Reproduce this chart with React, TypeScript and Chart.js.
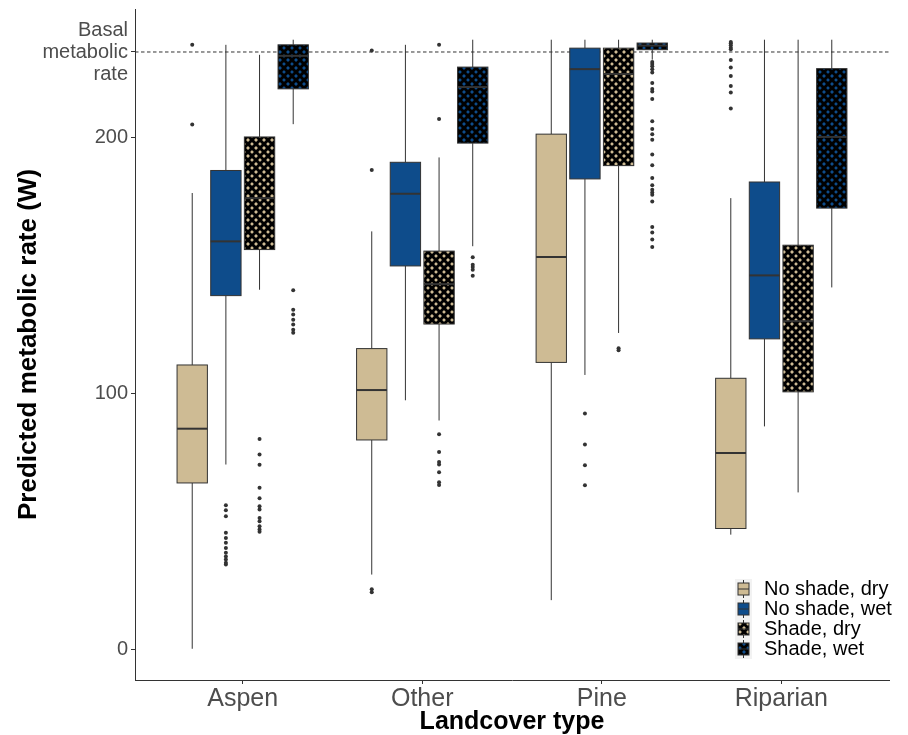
import React, { useEffect, useRef } from 'react';
import { Chart, registerables } from 'chart.js';

Chart.register(...registerables);

// ---------- data ----------
const categories = ['Aspen', 'Other', 'Pine', 'Riparian'];
const seriesNames = ['No shade, dry', 'No shade, wet', 'Shade, dry', 'Shade, wet'];
const yTickValues = [0, 100, 200];
const basalRate = 233.5;
const basalLabel = ['Basal', 'metabolic', 'rate'];

// per category: [lower whisker, Q1, median, Q3, upper whisker]
const noShadeDry = [
  [0.3, 65.1, 86.3, 111.2, 178.4],
  [29.3, 81.9, 101.4, 117.6, 163.4],
  [19.3, 112.2, 153.4, 201.4, 238.3],
  [44.9, 47.3, 76.8, 106.0, 176.4],
];
const noShadeWet = [
  [72.3, 138.3, 159.5, 187.2, 236.3],
  [97.4, 149.9, 178.1, 190.4, 236.3],
  [107.3, 183.9, 226.8, 235.0, 238.3],
  [87.2, 121.4, 146.2, 182.7, 238.3],
];
const shadeDry = [
  [140.6, 156.3, 176.4, 200.3, 232.4],
  [89.5, 127.2, 142.8, 155.7, 192.3],
  [123.7, 189.1, 224.9, 235.0, 238.3],
  [61.4, 100.7, 128.3, 158.0, 238.3],
];
const shadeWet = [
  [205.3, 219.1, 232.0, 236.3, 238.3],
  [157.6, 197.9, 219.8, 227.6, 238.3],
  [230.5, 234.4, 236.0, 237.0, 238.3],
  [141.5, 172.5, 200.3, 227.0, 238.3],
];

// outliers per category
const noShadeDryOut = [
  [236.3, 205.2],
  [234.1, 187.4, 23.6, 22.4],
  [],
  [237.4, 236.9, 236.1, 235.2, 234.6, 230.4, 227.4, 224.1, 220.2, 217.7, 211.4],
];
const noShadeWetOut = [
  [56.4, 54.4, 52.1, 45.6, 43.6, 41.7, 39.7, 37.8, 36.4, 35.2, 33.9, 33.2],
  [],
  [92.2, 80.1, 72.0, 64.2],
  [],
];
const shadeDryOut = [
  [82.3, 76.2, 72.2, 63.2, 59.1, 56.0, 54.7, 51.4, 50.1, 48.2, 46.9, 46.0],
  [236.3, 207.3, 84.1, 77.2, 73.3, 72.3, 69.3, 65.4, 64.3],
  [117.7, 117.0],
  [],
];
const shadeWetOut = [
  [140.4, 132.8, 130.9, 128.9, 127.0, 125.0, 123.8],
  [153.3, 150.4, 149.5, 148.4, 146.1],
  [229.6, 228.8, 227.9, 226.8, 225.5, 221.4, 219.0, 218.1, 215.1, 206.4, 203.4, 201.4, 199.2,
    193.4, 189.2, 184.3, 181.4, 179.7, 178.6, 177.7, 175.1, 165.1, 163.0, 160.2, 157.3],
  [],
];

const allStats = [noShadeDry, noShadeWet, shadeDry, shadeWet];
const allOutliers = [noShadeDryOut, noShadeWetOut, shadeDryOut, shadeWetOut];

// ---------- style / layout ----------
const FONT = '"Liberation Sans", Arial, sans-serif';
const TAN = '#CEBB94';
const BLUE = '#0E4C8B';
const LINE = '#333333';
const DODGE = 0.75;
const BOX_W = 0.169;
const seriesOffset = (j: number) => (j - (seriesNames.length - 1) / 2) * (DODGE / seriesNames.length);

function makeHatch(base: string): CanvasPattern {
  const s = 8;
  const c = document.createElement('canvas');
  c.width = s;
  c.height = s;
  const g = c.getContext('2d')!;
  g.fillStyle = base;
  g.fillRect(0, 0, s, s);
  g.strokeStyle = '#000';
  g.lineWidth = 3;
  for (const d of [-s, 0, s]) {
    g.beginPath();
    g.moveTo(d - 2, -2);
    g.lineTo(d + s + 2, s + 2);
    g.stroke();
    g.beginPath();
    g.moveTo(d - 2, s + 2);
    g.lineTo(d + s + 2, -2);
    g.stroke();
  }
  return g.createPattern(c, 'repeat')!;
}

export default function App() {
  const ref = useRef<HTMLCanvasElement>(null);

  useEffect(() => {
    document.body.style.margin = '0';
    const canvas = ref.current!;
    const fills: (string | CanvasPattern)[] = [TAN, BLUE, makeHatch(TAN), makeHatch(BLUE)];

    const boxPlugin = {
      id: 'boxes',
      afterDatasetDraw(chart: any, args: any) {
        if (args.index !== 0) return;
        const { ctx, scales } = chart;
        const x = scales.x;
        const y = scales.y;
        ctx.save();
        allStats.forEach((series, j) => {
          series.forEach((st, i) => {
            const c = i + 1 + seriesOffset(j);
            const xc = x.getPixelForValue(c);
            const xl = x.getPixelForValue(c - BOX_W / 2);
            const xr = x.getPixelForValue(c + BOX_W / 2);
            const [lo, q1, med, q3, hi] = st.map((v) => y.getPixelForValue(v));
            ctx.strokeStyle = LINE;
            ctx.lineWidth = 1;
            ctx.beginPath();
            ctx.moveTo(xc, hi);
            ctx.lineTo(xc, q3);
            ctx.moveTo(xc, q1);
            ctx.lineTo(xc, lo);
            ctx.stroke();
            ctx.fillStyle = fills[j];
            ctx.fillRect(xl, q3, xr - xl, q1 - q3);
            ctx.strokeRect(xl, q3, xr - xl, q1 - q3);
            ctx.lineWidth = 2;
            ctx.beginPath();
            ctx.moveTo(xl, med);
            ctx.lineTo(xr, med);
            ctx.stroke();
          });
        });
        ctx.restore();
      },
    };

    const legendPlugin = {
      id: 'boxLegend',
      afterDraw(chart: any) {
        const { ctx } = chart;
        const left = 735;
        const top = 579;
        const keyW = 17;
        const rowH = 20;
        ctx.save();
        ctx.fillStyle = '#F2F2F2';
        ctx.fillRect(left, top, keyW, rowH * seriesNames.length);
        seriesNames.forEach((name, j) => {
          const rt = top + j * rowH;
          const cx = left + keyW / 2;
          ctx.strokeStyle = LINE;
          ctx.lineWidth = 1;
          ctx.beginPath();
          ctx.moveTo(cx, rt + 1);
          ctx.lineTo(cx, rt + rowH - 1);
          ctx.stroke();
          ctx.fillStyle = fills[j];
          ctx.fillRect(left + 3, rt + 4, keyW - 6, rowH - 8);
          ctx.strokeRect(left + 3, rt + 4, keyW - 6, rowH - 8);
          ctx.beginPath();
          ctx.moveTo(left + 3, rt + rowH / 2);
          ctx.lineTo(left + keyW - 3, rt + rowH / 2);
          ctx.stroke();
          ctx.fillStyle = '#000';
          ctx.font = `20px ${FONT}`;
          ctx.textBaseline = 'middle';
          ctx.textAlign = 'left';
          ctx.fillText(name, 764, rt + rowH / 2);
        });
        ctx.restore();
      },
    };

    const outlierSets = allOutliers.map((outs, j) => ({
      type: 'scatter' as const,
      label: seriesNames[j],
      data: outs.flatMap((vals, i) => vals.map((v) => ({ x: i + 1 + seriesOffset(j), y: v }))),
      pointRadius: 2,
      pointHoverRadius: 2,
      pointBackgroundColor: LINE,
      pointBorderWidth: 0,
      order: 1,
    }));

    const chart = new Chart(canvas, {
      type: 'scatter',
      data: {
        datasets: [
          {
            type: 'line',
            label: 'Basal metabolic rate',
            data: [
              { x: 0.4, y: basalRate },
              { x: 4.6, y: basalRate },
            ],
            borderColor: LINE,
            borderWidth: 1,
            borderDash: [3.5, 2.5],
            pointRadius: 0,
            order: 10,
          } as any,
          ...outlierSets,
        ],
      },
      options: {
        animation: false,
        responsive: false,
        events: [],
        layout: { padding: { left: 0, top: 9, right: 19, bottom: 0 } },
        plugins: { legend: { display: false }, tooltip: { enabled: false } },
        scales: {
          x: {
            type: 'linear',
            min: 0.4,
            max: 4.6,
            afterBuildTicks: (s: any) => {
              s.ticks = categories.map((_, i) => ({ value: i + 1 }));
            },
            afterFit: (s: any) => {
              s.height = 55;
              s.paddingLeft = 0;
              s.paddingRight = 0;
            },
            ticks: {
              autoSkip: false,
              maxRotation: 0,
              padding: 0,
              color: '#4D4D4D',
              font: { family: FONT, size: 25, lineHeight: 1.2 },
              callback: (v: any) => categories[Math.round(Number(v)) - 1],
            },
            grid: { drawOnChartArea: false, drawTicks: true, tickLength: 4, color: LINE },
            border: { display: true, color: LINE, width: 1 },
            title: {
              display: true,
              text: 'Landcover type',
              color: '#000',
              font: { family: FONT, size: 25, weight: 'bold', lineHeight: 1.2 },
              padding: { top: 0, bottom: -2 },
            },
          },
          y: {
            type: 'linear',
            min: -11.9,
            max: 250.3,
            afterBuildTicks: (s: any) => {
              s.ticks = [...yTickValues, basalRate].map((value) => ({ value }));
            },
            afterFit: (s: any) => {
              s.width = 135;
              s.paddingTop = 0;
              s.paddingBottom = 0;
            },
            ticks: {
              autoSkip: false,
              padding: 3,
              color: '#4D4D4D',
              font: { family: FONT, size: 20, lineHeight: 1.1 },
              callback: (v: any) => (Number(v) === basalRate ? basalLabel : String(v)),
            },
            grid: { drawOnChartArea: false, drawTicks: true, tickLength: 4, color: LINE },
            border: { display: true, color: LINE, width: 1 },
            title: {
              display: true,
              text: 'Predicted metabolic rate (W)',
              color: '#000',
              font: { family: FONT, size: 26, weight: 'bold', lineHeight: 1.2 },
              padding: { top: 13, bottom: 0 },
            },
          },
        },
      },
      plugins: [boxPlugin, legendPlugin],
    });

    return () => chart.destroy();
  }, []);

  return (
    <div style={{ width: 908, height: 735 }}>
      <canvas ref={ref} width={908} height={735} style={{ display: 'block' }} />
    </div>
  );
}
